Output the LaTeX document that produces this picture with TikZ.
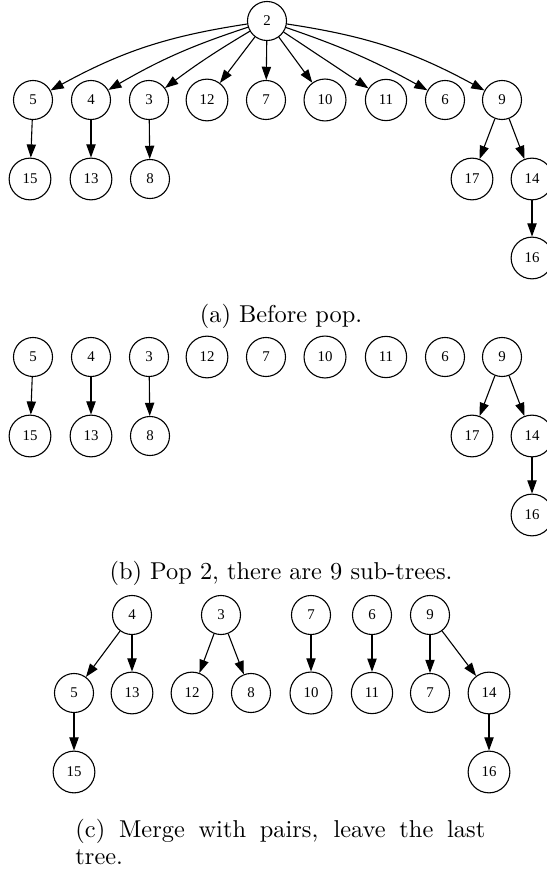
\documentclass[tikz,border=0pt]{standalone}
\usepackage{fontspec}
\newfontfamily\keyfont{Liberation Serif}
\usetikzlibrary{arrows.meta}
\tikzset{
  key/.style={draw, circle, line width=0.45pt, minimum size=16pt, inner sep=3.5pt,
    font=\keyfont\fontsize{6.1}{7}\selectfont},
  link/.style={-{Triangle[length=5.4pt,width=3.8pt]}, line width=0.45pt},
}
\begin{document}
\begin{tikzpicture}[x=0.41pt, y=-0.41pt]
  \useasboundingbox (0,0) rectangle (547,869);

  % (a) と (b) の部分木（(b) は根なし）
  \foreach \t/\dy in {a/0, b/257} {
    \foreach \k/\x in {5/33, 4/91, 3/149, 12/207, 7/266, 10/325, 11/386, 6/445, 9/502}
      \node[key] (\t\k) at (\x,100+\dy) {\k};
    \foreach \k/\x in {15/30, 13/91, 8/150, 17/472, 14/532}
      \node[key] (\t\k) at (\x,179+\dy) {\k};
    \node[key] (\t16) at (532,258+\dy) {16};

    \draw[link] (\t5) -- (\t15);
    \draw[link] (\t4) -- (\t13);
    \draw[link] (\t3) -- (\t8);
    \draw[link] (\t9) -- (\t17);
    \draw[link] (\t9) -- (\t14);
    \draw[link] (\t14) -- (\t16);
  }

  % (a) 根
  \node[key] (a2) at (267,21) {2};
  \draw[link] (a2) to[bend right=10] (a5);
  \draw[link] (a2) to[bend right=6] (a4);
  \draw[link] (a2) to[bend right=3] (a3);
  \foreach \k in {12, 7, 10, 11}
    \draw[link] (a2) -- (a\k);
  \draw[link] (a2) to[bend left=5] (a6);
  \draw[link] (a2) to[bend left=10] (a9);

  % (c) ペアで併合
  \foreach \n/\k/\x in {c4/4/132, c3/3/221, c7/7/311, c6/6/372, c9/9/430}
    \node[key] (\n) at (\x,615) {\k};
  \foreach \n/\k/\x in {c5/5/74, c13/13/132, c12/12/192, c8/8/251, c10/10/311,
                        c11/11/372, c7b/7/430, c14/14/489}
    \node[key] (\n) at (\x,693) {\k};
  \node[key] (c15) at (74,772) {15};
  \node[key] (c16) at (489,772) {16};

  \draw[link] (c4) -- (c5);
  \draw[link] (c4) -- (c13);
  \draw[link] (c5) -- (c15);
  \draw[link] (c3) -- (c12);
  \draw[link] (c3) -- (c8);
  \draw[link] (c7) -- (c10);
  \draw[link] (c6) -- (c11);
  \draw[link] (c9) -- (c7b);
  \draw[link] (c9) -- (c14);
  \draw[link] (c14) -- (c16);

  % キャプション
  \node[anchor=base] (capa) at (281,322) {(a) Before pop.};
  \node[anchor=base] (capb) at (281,579) {(b) Pop 2, there are 9 sub-trees.};
  \node[anchor=base west, text width=168pt, align=justify, inner sep=0pt,
        font=\fontsize{10}{11.2}\selectfont] (capc) at (75,837)
    {\tolerance=9999 (c) Merge with pairs, leave the last tree.};
\end{tikzpicture}
\end{document}
